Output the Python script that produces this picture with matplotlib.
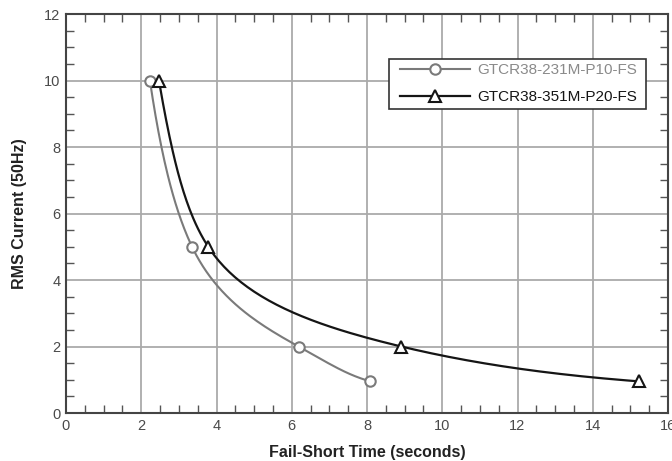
import numpy as np
import matplotlib
matplotlib.use("Agg")
import matplotlib.pyplot as plt
from matplotlib.ticker import MultipleLocator
from matplotlib.patches import Rectangle

plt.rcParams['font.family'] = ['Liberation Sans', 'DejaVu Sans']

series1_label = "GTCR38-231M-P10-FS"
series1_time = [2.23, 3.35, 6.18, 8.09]
series1_current = [10.0, 5.0, 2.0, 0.95]

series2_label = "GTCR38-351M-P20-FS"
series2_time = [2.47, 3.78, 8.91, 15.24]
series2_current = [10.0, 5.0, 2.0, 0.95]

xticks = [0, 2, 4, 6, 8, 10, 12, 14, 16]
yticks = [0, 2, 4, 6, 8, 10, 12]


def smooth(xs, ys, n=50):
    # centripetal Catmull-Rom spline through the data points, in log-log space
    P = np.column_stack([np.log(xs), np.log(ys)])
    P = np.vstack([2 * P[0] - P[1], P, 2 * P[-1] - P[-2]])
    out = []
    for i in range(1, len(P) - 2):
        p0, p1, p2, p3 = P[i - 1], P[i], P[i + 1], P[i + 2]

        def tj(ti, a, b):
            return ti + np.linalg.norm(b - a) ** 0.5
        t0 = 0.0
        t1 = tj(t0, p0, p1)
        t2 = tj(t1, p1, p2)
        t3 = tj(t2, p2, p3)
        t = np.linspace(t1, t2, n)[:, None]
        A1 = (t1 - t) / (t1 - t0) * p0 + (t - t0) / (t1 - t0) * p1
        A2 = (t2 - t) / (t2 - t1) * p1 + (t - t1) / (t2 - t1) * p2
        A3 = (t3 - t) / (t3 - t2) * p2 + (t - t2) / (t3 - t2) * p3
        B1 = (t2 - t) / (t2 - t0) * A1 + (t - t0) / (t2 - t0) * A2
        B2 = (t3 - t) / (t3 - t1) * A2 + (t - t1) / (t3 - t1) * A3
        C = (t2 - t) / (t2 - t1) * B1 + (t - t1) / (t2 - t1) * B2
        out.append(C if i == 1 else C[1:])
    C = np.vstack(out)
    return np.exp(C[:, 0]), np.exp(C[:, 1])


fig = plt.figure(figsize=(6.72, 4.61), dpi=100)
ax = fig.add_axes([66 / 672, 48 / 461, 602 / 672, 399 / 461])

c1 = '#7a7a7a'
c2 = '#151515'

x1, y1 = smooth(series1_time, series1_current)
x2, y2 = smooth(series2_time, series2_current)
ax.plot(x1, y1, color=c1, lw=1.5, zorder=3)
ax.plot(x2, y2, color=c2, lw=1.6, zorder=3)
ax.plot(series1_time, series1_current, 'o', ms=7.5, mfc='white', mec=c1, mew=1.5, zorder=4)
ax.plot(series2_time, series2_current, '^', ms=9, mfc='white', mec=c2, mew=1.5, zorder=4)

# legend frame
ax.add_patch(Rectangle((0.5365, 0.7619), 0.9635 - 0.5365, 0.8872 - 0.7619,
                       transform=ax.transAxes, facecolor='white', edgecolor='#333333',
                       lw=1.2, zorder=5))

h1, = ax.plot([], [], color=c1, lw=1.5, marker='o', ms=7.5, mfc='white', mec=c1, mew=1.5)
h2, = ax.plot([], [], color=c2, lw=1.6, marker='^', ms=9, mfc='white', mec=c2, mew=1.5)
leg = ax.legend([h1, h2], [series1_label, series2_label], loc='upper left',
                bbox_to_anchor=(0.5548, 0.877), fontsize=11, frameon=False,
                handlelength=4.6, handletextpad=0.45, borderpad=0,
                labelspacing=0.87, borderaxespad=0)
leg.set_zorder(6)
leg.get_texts()[0].set_color('#8a8a8a')
leg.get_texts()[1].set_color('#151515')

ax.set_xlim(0, 16)
ax.set_ylim(0, 12)
ax.set_xticks(xticks)
ax.set_yticks(yticks)
ax.xaxis.set_minor_locator(MultipleLocator(0.5))
ax.yaxis.set_minor_locator(MultipleLocator(0.5))
ax.tick_params(which='major', length=0, labelsize=10.5, labelcolor='#4a4a4a', pad=4)
ax.tick_params(which='minor', direction='in', length=5.5, width=1, color='#555555',
               top=True, right=True, bottom=True, left=True)
ax.grid(True, which='major', color='#aaaaaa', lw=1.3)
ax.set_axisbelow(True)
for s in ax.spines.values():
    s.set_color('#444444')
    s.set_linewidth(1.5)

ax.set_xlabel('Fail-Short Time (seconds)', fontsize=11.5, fontweight='bold', color='#222222', labelpad=9)
ax.set_ylabel('RMS Current (50Hz)', fontsize=11.5, fontweight='bold', color='#222222', labelpad=12)

fig.savefig('out.png', dpi=100)
